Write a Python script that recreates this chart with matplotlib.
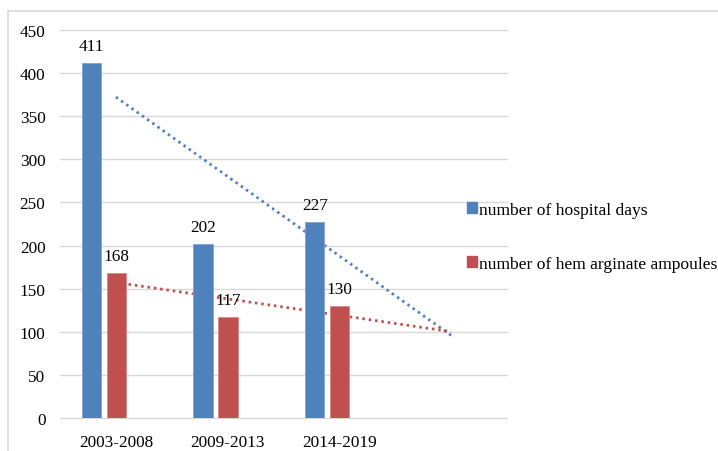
import matplotlib
matplotlib.use("Agg")
import matplotlib.pyplot as plt
from matplotlib.lines import Line2D
from matplotlib.patches import Rectangle
import numpy as np

categories = ["2003-2008", "2009-2013", "2014-2019"]
hospital_days = [411, 202, 227]
ampoules = [168, 117, 130]
series_names = ["number of hospital days", "number of hem arginate ampoules"]
yticks = [0, 50, 100, 150, 200, 250, 300, 350, 400, 450]

blue = "#4F81BD"
red = "#C0504D"
plt.rcParams["font.family"] = ["Liberation Serif", "DejaVu Serif"]

W, H = 718, 452
fig = plt.figure(figsize=(W / 100, H / 100), dpi=100)
ax = fig.add_axes([60 / W, 1 - 419.3 / H, (507 - 60) / W, (419.3 - 30.7) / H])

x = np.arange(len(categories))
bw = 0.172
off_blue, off_red = -0.22, 0.003
fs = 12.4

# trendlines (linear fit, forecast forward 1 period), drawn behind bars
xt = np.array([0, len(categories)])
for vals, col in [(hospital_days, blue), (ampoules, red)]:
    k, b = np.polyfit(x, vals, 1)
    ax.plot(xt, k * xt + b, color=col, lw=2, linestyle=(0, (0.9, 1.4)),
            dash_capstyle="butt", zorder=2)

ax.bar(x + off_blue, hospital_days, width=bw, color=blue, edgecolor="#7FA3D0",
       linewidth=0.6, zorder=3)
ax.bar(x + off_red, ampoules, width=bw, color=red, edgecolor="#D98A88",
       linewidth=0.6, zorder=3)

for xi, v in zip(x + off_blue, hospital_days):
    ax.annotate(str(v), (xi, v), xytext=(0, 17), textcoords="offset pixels",
                ha="center", va="center", fontsize=fs, zorder=5)
for xi, v in zip(x + off_red, ampoules):
    ax.annotate(str(v), (xi, v), xytext=(0, 17), textcoords="offset pixels",
                ha="center", va="center", fontsize=fs, zorder=5)

ax.set_xlim(-0.5, len(categories) + 0.5)
ax.set_ylim(0, 450)
ax.set_yticks(yticks)
ax.set_yticklabels([str(t) for t in yticks], fontsize=fs)
ax.set_xticks(x)
ax.set_xticklabels(categories, fontsize=fs)
ax.tick_params(length=0)
ax.tick_params(axis="y", pad=10.5)
ax.tick_params(axis="x", pad=11)
for t in yticks:
    ax.axhline(t, color="#D9D9D9", lw=1, zorder=0, clip_on=False)
for s in ax.spines.values():
    s.set_visible(False)

# legend
handles = [Rectangle((0, 0), 1, 1, color=blue), Rectangle((0, 0), 1, 1, color=red)]
leg = fig.legend(handles, series_names, loc="upper left",
                 bbox_to_anchor=(467 / W, 1 - 203 / H), frameon=False,
                 fontsize=12.6, handlelength=0.55, handleheight=0.6,
                 handletextpad=0.15, labelspacing=2.15, borderaxespad=0,
                 borderpad=0)

# outer border
fig.add_artist(Line2D([8 / W, 8 / W], [0, 1 - 12 / H], color="#D9D9D9", lw=1.2,
                      transform=fig.transFigure))
fig.add_artist(Line2D([8 / W, 1], [1 - 12 / H, 1 - 12 / H], color="#D9D9D9", lw=1.2,
                      transform=fig.transFigure))

fig.savefig("out.png", dpi=100)
